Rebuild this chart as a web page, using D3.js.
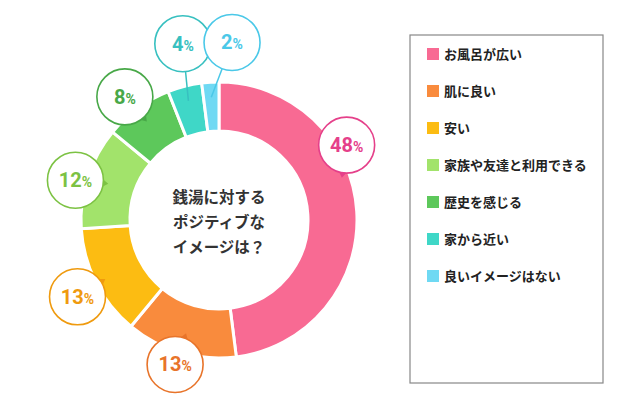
<!DOCTYPE html>
<html><head><meta charset="utf-8">
<script src="https://cdn.jsdelivr.net/npm/d3@7"></script>
<style>body{margin:0;background:#fff}</style></head>
<body><svg id="c" width="640" height="420"></svg>
<script>
const categories = ["お風呂が広い","肌に良い","安い","家族や友達と利用できる","歴史を感じる","家から近い","良いイメージはない"];
const values = [48,13,13,12,8,4,2];
const colors = ["#f86a93","#f98b3d","#fcbc12","#a2e36b","#5dc85b","#3fd7c7","#6fd9f3"];
const textColors = ["#e5408a","#e8742a","#ef9a0e","#7cc243","#48a848","#38c0c0","#4ac8e8"];
const calloutAngle = [59.6,196.9,241.5,285.5,322.6,348.4,4.2];
const calloutRadius = [148,151,161,149,155,180,178];
const centerLines = ["銭湯に対する","ポジティブな","イメージは？"];

const svg = d3.select("#c");
const cx=219, cy=220, R=138, r0=89, cr=28;
const g = svg.append("g").attr("transform",`translate(${cx},${cy})`);
const pie = d3.pie().sort(null).value(d=>d)(values);
const arc = d3.arc().innerRadius(r0).outerRadius(R);
g.selectAll("path.s").data(pie).join("path").attr("class","s")
 .attr("d",arc).attr("fill",(d,i)=>colors[i]).attr("stroke","#fff").attr("stroke-width",3);
g.append("circle").attr("r",r0).attr("fill","#fff");
centerLines.forEach((t,i)=>g.append("text").attr("x",0).attr("y",-17+i*25).attr("text-anchor","middle")
 .attr("font-family","Noto Sans CJK JP").attr("font-weight","bold").attr("font-size",15.5).attr("fill","#333").text(t));

const rad = a=>a*Math.PI/180;
pie.forEach((d,i)=>{
  const a=rad(calloutAngle[i]), rr=calloutRadius[i];
  const x=rr*Math.sin(a), y=-rr*Math.cos(a);
  const mid=(d.startAngle+d.endAngle)/2;
  const tr = i>=5 ? (R-15) : R-20;
  const tx=tr*Math.sin(mid), ty=-tr*Math.cos(mid);
  const ang=Math.atan2(ty-y,tx-x);
  if(i>=5){
    g.append("line").attr("x1",x+cr*Math.cos(ang)).attr("y1",y+cr*Math.sin(ang)).attr("x2",tx).attr("y2",ty)
     .attr("stroke",textColors[i]).attr("stroke-width",1.5);
  } else {
    const px=x+(cr+5)*Math.cos(ang), py=y+(cr+5)*Math.sin(ang);
    const bx=x+(cr-1)*Math.cos(ang), by=y+(cr-1)*Math.sin(ang);
    const nx=-Math.sin(ang)*4, ny=Math.cos(ang)*4;
    g.append("path").attr("d",`M${px},${py}L${bx+nx},${by+ny}L${bx-nx},${by-ny}Z`).attr("fill",textColors[i]);
  }
  g.append("circle").attr("cx",x).attr("cy",y).attr("r",cr).attr("fill","#fff").attr("stroke",textColors[i]).attr("stroke-width",1.6);
  const t=g.append("text").attr("x",x).attr("y",y+7).attr("text-anchor","middle").attr("fill",textColors[i])
   .attr("font-family","Roboto").attr("font-weight","bold");
  t.append("tspan").attr("font-size",20).text(values[i]);
  t.append("tspan").attr("font-size",14).text("%");
});

const lg = svg.append("g");
lg.append("rect").attr("x",410).attr("y",35).attr("width",193).attr("height",348).attr("fill","#fff").attr("stroke","#888").attr("stroke-width",1.2);
const ly = d3.scalePoint().domain(categories).range([54,276]);
categories.forEach((c,i)=>{
  lg.append("rect").attr("x",427).attr("y",ly(c)-6).attr("width",12).attr("height",12).attr("fill",colors[i]);
  lg.append("text").attr("x",444).attr("y",ly(c)+5).attr("font-family","Noto Sans CJK JP").attr("font-weight","bold")
   .attr("font-size",13).attr("fill","#222").text(c);
});
</script></body></html>
